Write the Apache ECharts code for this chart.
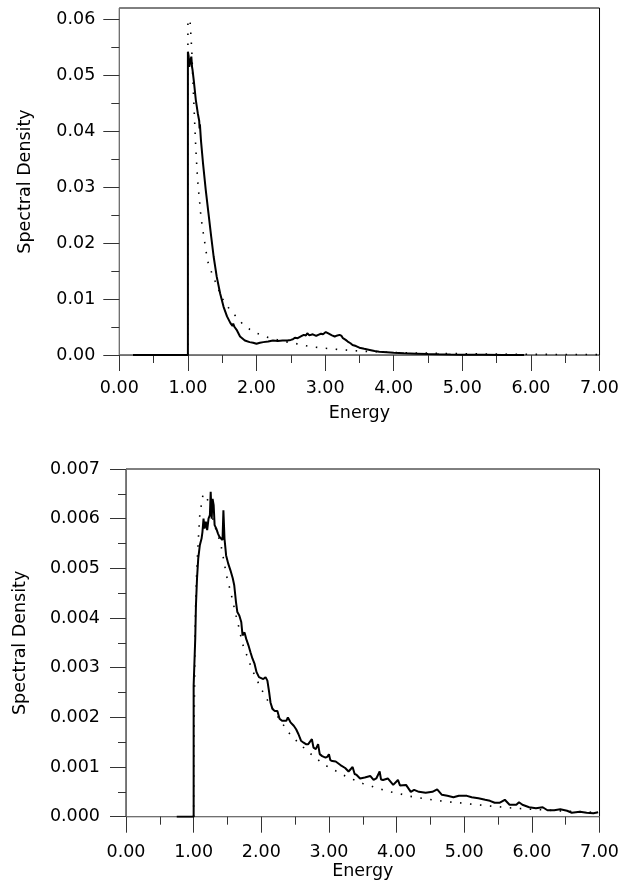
<!DOCTYPE html>
<html>
<head>
<meta charset="utf-8">
<script src="https://cdn.jsdelivr.net/npm/echarts@6/dist/echarts.min.js"></script>
<style>
  html, body { margin: 0; padding: 0; background: #fff; }
  #chart { width: 622px; height: 888px; }
</style>
</head>
<body>
<div id="chart"></div>
<script>
  // Graphe du haut : densité simulée (trait plein) et théorique (pointillé)
  const topSimX = [0.2, 1.0, 1.0, 1.01, 1.02, 1.03, 1.04, 1.05, 1.06, 1.067, 1.087, 1.115, 1.144, 1.165, 1.17, 1.175,
    1.19, 1.22, 1.26, 1.30, 1.34, 1.375, 1.42, 1.47, 1.52, 1.57, 1.62, 1.65, 1.66, 1.68, 1.71, 1.76, 1.83, 1.90,
    1.95, 2.0, 2.05, 2.10, 2.17, 2.24, 2.31, 2.38, 2.45, 2.5, 2.53, 2.56, 2.58, 2.6, 2.62, 2.66, 2.69, 2.72, 2.74,
    2.77, 2.79, 2.82, 2.84, 2.87, 2.9, 2.94, 2.97, 3.01, 3.04, 3.06, 3.1, 3.14, 3.18, 3.21, 3.24, 3.26, 3.3, 3.33,
    3.37, 3.4, 3.45, 3.5, 3.57, 3.65, 3.72, 3.79, 3.9, 4.0, 4.15, 4.33, 4.5, 4.66, 4.83, 5.0, 5.3, 5.6, 5.9];
  const topSimY = [0, 0, 0.0542, 0.0535, 0.0515, 0.0512, 0.0528, 0.0533, 0.0515, 0.051, 0.0489, 0.0456, 0.0432,
    0.0418, 0.0405, 0.0412, 0.0384, 0.0343, 0.0295, 0.0253, 0.0211, 0.0176, 0.014, 0.011, 0.0086, 0.0069, 0.0057,
    0.0052, 0.0056, 0.005, 0.0045, 0.0033, 0.0026, 0.0023, 0.0022, 0.0020, 0.0022, 0.0023, 0.0024, 0.0026, 0.0025,
    0.0026, 0.0026, 0.0027, 0.0028, 0.0031, 0.0033, 0.0030, 0.0033, 0.0034, 0.0036, 0.0035, 0.0039, 0.0035, 0.0034,
    0.0037, 0.0037, 0.0034, 0.0036, 0.0038, 0.0037, 0.0041, 0.0039, 0.0037, 0.0035, 0.0033, 0.0035, 0.0036, 0.0034,
    0.0030, 0.0027, 0.0024, 0.0021, 0.0018, 0.0016, 0.0013, 0.0011, 0.0009, 0.0007, 0.0006, 0.0005, 0.0004, 0.0003,
    0.00024, 0.00016, 0.00012, 0.00008, 0.00006, 0.00003, 0.00001, 0];

  const topTheoX = [1.0, 1.0, 1.03, 1.055, 1.057, 1.07, 1.086, 1.1, 1.115, 1.134, 1.15, 1.17, 1.183, 1.2, 1.222,
    1.265, 1.29, 1.35, 1.4, 1.5, 1.6, 1.7, 1.8, 1.9, 2.0, 2.15, 2.4, 2.52, 2.66, 2.79, 2.93, 3.08, 3.23, 3.42, 3.57,
    3.74, 3.89, 4.16, 4.45, 4.75, 5.05, 5.35, 5.7, 6.0, 6.5, 7.0];
  const topTheoY = [0, 0.0596, 0.0600, 0.0597, 0.0543, 0.050, 0.0452, 0.0412, 0.037, 0.0328, 0.0300, 0.0275, 0.0256,
    0.0238, 0.022, 0.0185, 0.0167, 0.0146, 0.0131, 0.0101, 0.0083, 0.0069, 0.0055, 0.0046, 0.0039, 0.0032, 0.0024,
    0.0022, 0.0018, 0.0015, 0.0013, 0.0011, 0.00095, 0.00077, 0.00066, 0.00058, 0.0005, 0.0004, 0.00034, 0.00028,
    0.00022, 0.00018, 0.00014, 0.00012, 0.00009, 0.00007];

  // Graphe du bas
  const botSimX = [0.75, 1.0, 1.0, 1.015, 1.024, 1.034, 1.05, 1.068, 1.092, 1.117, 1.13, 1.146, 1.16, 1.18, 1.2, 1.22,
    1.24, 1.252, 1.267, 1.28, 1.296, 1.31, 1.335, 1.36, 1.383, 1.408, 1.427, 1.44, 1.456, 1.48, 1.51, 1.544, 1.578,
    1.6, 1.626, 1.646, 1.675, 1.704, 1.723, 1.752, 1.777, 1.81, 1.84, 1.87, 1.9, 1.93, 1.966, 1.995, 2.03, 2.063,
    2.09, 2.117, 2.136, 2.165, 2.2, 2.238, 2.27, 2.306, 2.335, 2.37, 2.393, 2.432, 2.48, 2.515, 2.55, 2.587, 2.626,
    2.66, 2.694, 2.72, 2.748, 2.772, 2.806, 2.84, 2.864, 2.9, 2.95, 2.98, 3.0, 3.02, 3.05, 3.1, 3.17, 3.24, 3.29,
    3.35, 3.38, 3.41, 3.46, 3.53, 3.61, 3.66, 3.7, 3.75, 3.77, 3.8, 3.87, 3.95, 4.02, 4.05, 4.07, 4.14, 4.21, 4.26,
    4.33, 4.43, 4.53, 4.6, 4.67, 4.75, 4.84, 4.92, 5.04, 5.11, 5.21, 5.31, 5.38, 5.45, 5.52, 5.6, 5.67, 5.77, 5.81,
    5.86, 5.96, 6.06, 6.16, 6.23, 6.33, 6.42, 6.52, 6.59, 6.71, 6.81, 6.91, 6.98];
  const botSimY = [0, 0, 0.00264, 0.0026, 0.0036, 0.00425, 0.0048, 0.0052, 0.00547, 0.0056, 0.00573, 0.0060, 0.0058,
    0.00594, 0.00577, 0.0060, 0.00607, 0.00654, 0.0060, 0.0064, 0.00627, 0.00587, 0.0058, 0.0057, 0.00563, 0.00567,
    0.00557, 0.00617, 0.0056, 0.00526, 0.0051, 0.00496, 0.0048, 0.00466, 0.00432, 0.00412, 0.00405, 0.00392, 0.00365,
    0.00371, 0.00358, 0.00345, 0.00331, 0.00318, 0.00308, 0.00291, 0.00281, 0.00284, 0.00277, 0.00281, 0.00274,
    0.0025, 0.0023, 0.00217, 0.00213, 0.00213, 0.00197, 0.00193, 0.00197, 0.00193, 0.002, 0.0019, 0.00183, 0.00176,
    0.00166, 0.00153, 0.00149, 0.00146, 0.00146, 0.00143, 0.00156, 0.00139, 0.00136, 0.00146, 0.00126, 0.00122,
    0.00119, 0.00121, 0.00126, 0.00114, 0.00112, 0.00111, 0.00104, 0.00098, 0.00091, 0.001, 0.00086, 0.00084,
    0.00077, 0.00079, 0.00082, 0.00074, 0.00077, 0.00091, 0.00075, 0.00074, 0.00077, 0.00064, 0.00074, 0.00063,
    0.00061, 0.00064, 0.0005, 0.00054, 0.0005, 0.00048, 0.0005, 0.00055, 0.00044, 0.00042, 0.00039, 0.00042,
    0.00042, 0.00039, 0.00037, 0.00034, 0.00032, 0.00028, 0.00028, 0.00034, 0.00024, 0.00024, 0.00029, 0.00024,
    0.00019, 0.00017, 0.00019, 0.00013, 0.00013, 0.00015, 0.00012, 0.00008, 0.0001, 0.00008, 0.00007, 0.00009];

  const botTheoX = [1.0, 1.005, 1.015, 1.02, 1.034, 1.044, 1.058, 1.073, 1.092, 1.117, 1.14, 1.2, 1.25, 1.3, 1.35,
    1.4, 1.43, 1.485, 1.52, 1.553, 1.626, 1.68, 1.714, 1.8, 1.86, 2.0, 2.11, 2.25, 2.35, 2.44, 2.65, 2.77, 2.88, 3.0,
    3.15, 3.24, 3.36, 3.5, 3.64, 3.78, 3.91, 4.05, 4.2, 4.34, 4.48, 4.63, 4.77, 4.92, 5.06, 5.21, 5.35, 5.5, 5.75,
    6.0, 6.25, 6.5, 6.75, 7.0];
  const botTheoY = [0, 0.0015, 0.00284, 0.0037, 0.0045, 0.0049, 0.0053, 0.00567, 0.0061, 0.0063, 0.0065, 0.0064,
    0.0062, 0.0059, 0.0057, 0.0055, 0.00528, 0.00486, 0.00467, 0.00449, 0.00405, 0.00375, 0.00351, 0.0032, 0.00297,
    0.00257, 0.0023, 0.002, 0.0018, 0.00163, 0.00136, 0.00122, 0.0011, 0.00099, 0.00089, 0.00082, 0.00075, 0.00067,
    0.00061, 0.00055, 0.0005, 0.00046, 0.00041, 0.00038, 0.00035, 0.00032, 0.0003, 0.00028, 0.00026, 0.00024,
    0.00022, 0.0002, 0.00017, 0.00015, 0.00013, 0.00011, 0.0001, 0.00008];

  // Graduations
  const topYTicks = [0, 0.01, 0.02, 0.03, 0.04, 0.05, 0.06];
  const topYMinor = [0.005, 0.015, 0.025, 0.035, 0.045, 0.055];

  const zip = (xs, ys) => xs.map((x, i) => [x, ys[i]]);

  const font = { fontFamily: 'DejaVu Sans', fontSize: 17.5, color: '#000' };
  const axisLineStyle = { lineStyle: { color: '#707070', width: 1 } };
  const tickStyle = { lineStyle: { color: '#333', width: 1 } };

  function xAxisFor(gridIndex, labelMargin, nameGap) {
    return {
      type: 'value', gridIndex, min: 0, max: 7, interval: 1,
      name: 'Energy', nameLocation: 'middle', nameGap,
      nameTextStyle: font,
      axisLine: axisLineStyle,
      axisTick: { show: true, length: 16, ...tickStyle },
      minorTick: { show: true, splitNumber: 2, length: 8, ...tickStyle },
      axisLabel: { ...font, margin: labelMargin, formatter: v => v.toFixed(2) },
      splitLine: { show: false }
    };
  }

  const chart = echarts.init(document.getElementById('chart'), null, { renderer: 'canvas' });

  const option = {
    animation: false,
    backgroundColor: '#fff',
    grid: [
      { left: 119.3, right: 21.3, top: 8, bottom: 533, show: true, borderColor: '#000', borderWidth: 1 },
      { left: 126, right: 15.3, top: 469, bottom: 71.3, show: true, borderColor: '#000', borderWidth: 1 }
    ],
    xAxis: [
      xAxisFor(0, 24, 49),
      xAxisFor(1, 27, 41)
    ],
    yAxis: [
      {
        type: 'value', gridIndex: 0, min: 0, max: 0.062, interval: 0.01,
        name: 'Spectral Density', nameLocation: 'middle', nameGap: 85,
        nameTextStyle: font,
        axisLine: { show: true, ...axisLineStyle },
        axisTick: { show: true, length: 16, customValues: topYTicks, ...tickStyle },
        axisLabel: { ...font, margin: 24, customValues: topYTicks, formatter: v => v.toFixed(2) },
        splitLine: { show: false }
      },
      {
        // graduations secondaires du graphe du haut
        type: 'value', gridIndex: 0, min: 0, max: 0.062, position: 'left',
        axisLine: { show: false },
        axisTick: { show: true, length: 8, customValues: topYMinor, ...tickStyle },
        axisLabel: { show: false },
        splitLine: { show: false }
      },
      {
        type: 'value', gridIndex: 1, min: 0, max: 0.007, interval: 0.001,
        name: 'Spectral Density', nameLocation: 'middle', nameGap: 97,
        nameTextStyle: font,
        axisLine: { show: true, ...axisLineStyle },
        axisTick: { show: true, length: 16, ...tickStyle },
        minorTick: { show: true, splitNumber: 2, length: 8, ...tickStyle },
        axisLabel: { ...font, margin: 26, formatter: v => v.toFixed(3) },
        splitLine: { show: false }
      }
    ],
    series: [
      {
        type: 'line', xAxisIndex: 0, yAxisIndex: 0, data: zip(topTheoX, topTheoY),
        showSymbol: false, z: 2,
        lineStyle: { color: '#000', width: 1.6, type: [1.5, 8.5] }
      },
      {
        type: 'line', xAxisIndex: 0, yAxisIndex: 0, data: zip(topSimX, topSimY),
        showSymbol: false, z: 3,
        lineStyle: { color: '#000', width: 2 }
      },
      {
        type: 'line', xAxisIndex: 1, yAxisIndex: 2, data: zip(botTheoX, botTheoY),
        showSymbol: false, z: 2,
        lineStyle: { color: '#000', width: 1.6, type: [1.5, 8.5] }
      },
      {
        type: 'line', xAxisIndex: 1, yAxisIndex: 2, data: zip(botSimX, botSimY),
        showSymbol: false, z: 3,
        lineStyle: { color: '#000', width: 2 }
      }
    ]
  };

  chart.setOption(option);
</script>
</body>
</html>
